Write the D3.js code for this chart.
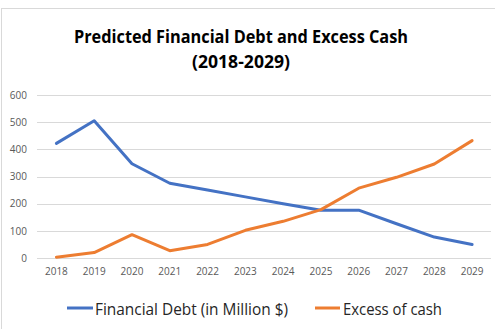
<!DOCTYPE html>
<html>
<head>
<meta charset="utf-8">
<style>
  body { margin: 0; background: #fff; }
  .grid line { stroke: #d9d9d9; stroke-width: 1px; }
  .tick text { fill: #595959; font-family: "Open Sans", sans-serif; font-size: 10px; }
  .title { font-family: "Open Sans", sans-serif; font-weight: bold; fill: #000; }
  .legend text { font-family: "Open Sans", sans-serif; fill: #262626; }
</style>
</head>
<body>
<script src="https://cdnjs.cloudflare.com/ajax/libs/d3/7.8.5/d3.min.js"></script>
<script>
  var years = ["2018","2019","2020","2021","2022","2023","2024","2025","2026","2027","2028","2029"];
  var financialDebt = [422, 505, 347, 275, 250, 225, 200, 176, 176, 126, 77, 50];
  var excessCash = [3, 20, 86, 27, 50, 102, 135, 178, 257, 297, 346, 432];
  var yTicks = [0, 100, 200, 300, 400, 500, 600];

  var width = 495, height = 329;
  var svg = d3.select("body").append("svg")
      .attr("width", width)
      .attr("height", height);

  // chart area border
  svg.append("rect")
      .attr("x", 1.5).attr("y", 8.5)
      .attr("width", 500).attr("height", 330)
      .attr("fill", "#fff")
      .attr("stroke", "#d9d9d9");

  svg.append("text").attr("class", "title")
      .attr("x", 241).attr("y", 43)
      .attr("text-anchor", "middle")
      .attr("font-size", 18)
      .attr("textLength", 334)
      .attr("lengthAdjust", "spacingAndGlyphs")
      .text("Predicted Financial Debt and Excess Cash");
  svg.append("text").attr("class", "title")
      .attr("x", 241).attr("y", 68)
      .attr("text-anchor", "middle")
      .attr("font-size", 18)
      .attr("textLength", 98)
      .attr("lengthAdjust", "spacingAndGlyphs")
      .text("(2018-2029)");

  var x = d3.scaleBand().domain(years).range([37.5, 491]);
  var y = d3.scaleLinear().domain([0, 600]).range([258, 95]);

  svg.append("g").attr("class", "grid")
    .selectAll("line").data(yTicks).enter().append("line")
      .attr("x1", 37).attr("x2", 491)
      .attr("y1", function(d) { return Math.round(y(d)) + 0.5; })
      .attr("y2", function(d) { return Math.round(y(d)) + 0.5; });

  var yAxis = svg.append("g")
      .attr("transform", "translate(27,0)")
      .call(d3.axisLeft(y).tickValues(yTicks).tickSize(0).tickPadding(0));
  yAxis.select(".domain").remove();

  var xAxis = svg.append("g")
      .attr("transform", "translate(0,268)")
      .call(d3.axisBottom(x).tickSize(0).tickPadding(0));
  xAxis.select(".domain").remove();

  var line = d3.line()
      .x(function(d, i) { return x(years[i]) + x.bandwidth() / 2; })
      .y(function(d) { return y(d); });

  svg.append("path").datum(financialDebt)
      .attr("d", line)
      .attr("fill", "none")
      .attr("stroke", "#4472C4")
      .attr("stroke-width", 3)
      .attr("stroke-linejoin", "round")
      .attr("stroke-linecap", "round");

  svg.append("path").datum(excessCash)
      .attr("d", line)
      .attr("fill", "none")
      .attr("stroke", "#ED7D31")
      .attr("stroke-width", 3)
      .attr("stroke-linejoin", "round")
      .attr("stroke-linecap", "round");

  var legendItems = [
    { name: "Financial Debt (in Million $)", color: "#4472C4", x1: 67, x2: 93, tx: 95, len: 193 },
    { name: "Excess of cash", color: "#ED7D31", x1: 315, x2: 340, tx: 343, len: 99 }
  ];
  var lg = svg.append("g").attr("class", "legend");
  legendItems.forEach(function(it) {
    lg.append("line")
      .attr("x1", it.x1).attr("x2", it.x2)
      .attr("y1", 308).attr("y2", 308)
      .attr("stroke", it.color).attr("stroke-width", 3);
    lg.append("text")
      .attr("x", it.tx).attr("y", 315)
      .attr("font-size", 16)
      .attr("textLength", it.len)
      .attr("lengthAdjust", "spacingAndGlyphs")
      .text(it.name);
  });
</script>
</body>
</html>
